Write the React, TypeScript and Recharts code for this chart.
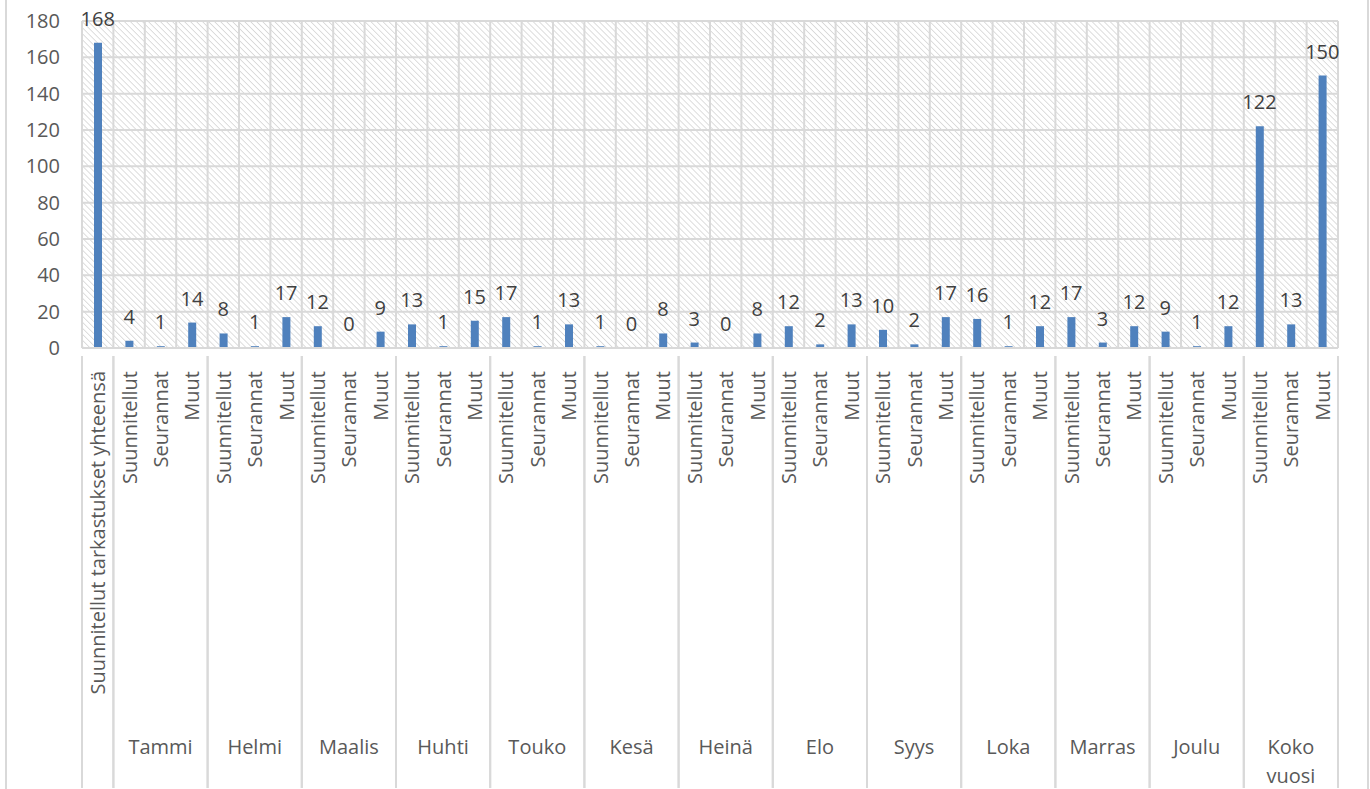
import React from 'react';
import { ComposedChart, Bar, Line, XAxis, YAxis, CartesianGrid, LabelList } from 'recharts';

const totalLabel = 'Suunnitellut tarkastukset yhteensä';
const totalValue = 168;
const months = ['Tammi', 'Helmi', 'Maalis', 'Huhti', 'Touko', 'Kesä', 'Heinä', 'Elo', 'Syys', 'Loka', 'Marras', 'Joulu', 'Koko vuosi'];
const subLabels = ['Suunnitellut', 'Seurannat', 'Muut'];
const suunnitellut = [4, 8, 12, 13, 17, 1, 3, 12, 10, 16, 17, 9, 122];
const seurannat = [1, 1, 0, 1, 1, 0, 0, 2, 2, 1, 3, 1, 13];
const muut = [14, 17, 9, 15, 13, 8, 8, 13, 17, 12, 12, 12, 150];
const yTicks = [0, 20, 40, 60, 80, 100, 120, 140, 160, 180];

type Row = { name: string; group: string; groupPos: number; groupSize: number; value: number };

const data: Row[] = [
  { name: totalLabel, group: '', groupPos: 0, groupSize: 1, value: totalValue },
];
months.forEach((m, i) => {
  const vals = [suunnitellut[i], seurannat[i], muut[i]];
  subLabels.forEach((s, j) => {
    data.push({ name: s, group: m, groupPos: j, groupSize: 3, value: vals[j] });
  });
});

const FONT = 'Open Sans, sans-serif';
const GRID = '#D9D9D9';
const TEXT = '#595959';
const FS = 20;

const CategoryTick = (props: any) => {
  const { x, y, payload, index, width } = props;
  const row = data[index];
  if (!row) return null;
  const bw = (width || 1256) / data.length;
  const lineBottom = y + 432;
  const els: React.ReactNode[] = [];
  els.push(
    <text
      key="t"
      transform={`translate(${x},${y + 15}) rotate(-90)`}
      textAnchor="end"
      dominantBaseline="central"
      fill={TEXT}
      fontSize={FS}
      fontFamily={FONT}
    >
      {payload.value}
    </text>
  );
  if (row.groupPos === 0) {
    els.push(<line key="l" x1={x - bw / 2} x2={x - bw / 2} y1={y} y2={lineBottom} stroke={GRID} strokeWidth={2} />);
  }
  if (row.groupPos === row.groupSize - 1) {
    els.push(<line key="r" x1={x + bw / 2} x2={x + bw / 2} y1={y} y2={lineBottom} stroke={GRID} strokeWidth={2} />);
  }
  if (row.group && row.groupPos === Math.floor(row.groupSize / 2)) {
    const lines = row.group.split(' ');
    lines.forEach((ln, k) => {
      els.push(
        <text
          key={'g' + k}
          x={x}
          y={y + 390 + k * 29}
          textAnchor="middle"
          dominantBaseline="central"
          fill={TEXT}
          fontSize={FS}
          fontFamily={FONT}
        >
          {ln}
        </text>
      );
    });
  }
  return <g>{els}</g>;
};

const ValueLabel = (p: any) => {
  if (p.value === undefined || p.value === null) return null;
  return (
    <text
      x={p.x}
      y={p.y - 17}
      textAnchor="middle"
      fill="#404040"
      fontSize={FS}
      fontFamily={FONT}
    >
      {p.value}
    </text>
  );
};

export default function App() {
  return (
    <div style={{ position: 'absolute', left: 0, top: 0, width: 1370, height: 789, background: '#fff' }}>
      <div style={{ position: 'absolute', left: 5, top: 0, width: 1360, height: 789, borderLeft: `2px solid ${GRID}`, borderRight: `2px solid ${GRID}` }} />
      <ComposedChart
        width={1370}
        height={789}
        data={data}
        margin={{ top: 21, right: 32, left: 0, bottom: 0 }}
        barSize={8}
        style={{ position: 'absolute', left: 0, top: 0 }}
      >
        <defs>
          <pattern id="hatch" patternUnits="userSpaceOnUse" width="4.25" height="4.25" patternTransform="rotate(-45)">
            <rect width="4.25" height="4.25" fill="#ffffff" />
            <line x1="0" y1="0" x2="0" y2="4.25" stroke="#D3D3D3" strokeWidth="1.5" />
          </pattern>
        </defs>
        <CartesianGrid
          fill="url(#hatch)"
          stroke={GRID}
          strokeWidth={2}
          verticalCoordinatesGenerator={({ offset }: any) =>
            Array.from({ length: data.length + 1 }, (_, i) => offset.left + (i * offset.width) / data.length)
          }
        />
        <XAxis
          dataKey="name"
          interval={0}
          height={441}
          tickLine={false}
          axisLine={{ stroke: GRID, strokeWidth: 2 }}
          tick={<CategoryTick />}
        />
        <YAxis
          width={82}
          domain={[0, 180]}
          ticks={yTicks}
          axisLine={false}
          tickLine={false}
          tickSize={6}
          tickMargin={16}
          tick={{ fill: TEXT, fontSize: FS, fontFamily: FONT }}
        />
        <Bar dataKey="value" fill="#4F81BD" isAnimationActive={false} />
        <Line
          dataKey="value"
          stroke="none"
          dot={false}
          activeDot={false}
          isAnimationActive={false}
          legendType="none"
        >
          <LabelList dataKey="value" content={<ValueLabel />} />
        </Line>
      </ComposedChart>
    </div>
  );
}
